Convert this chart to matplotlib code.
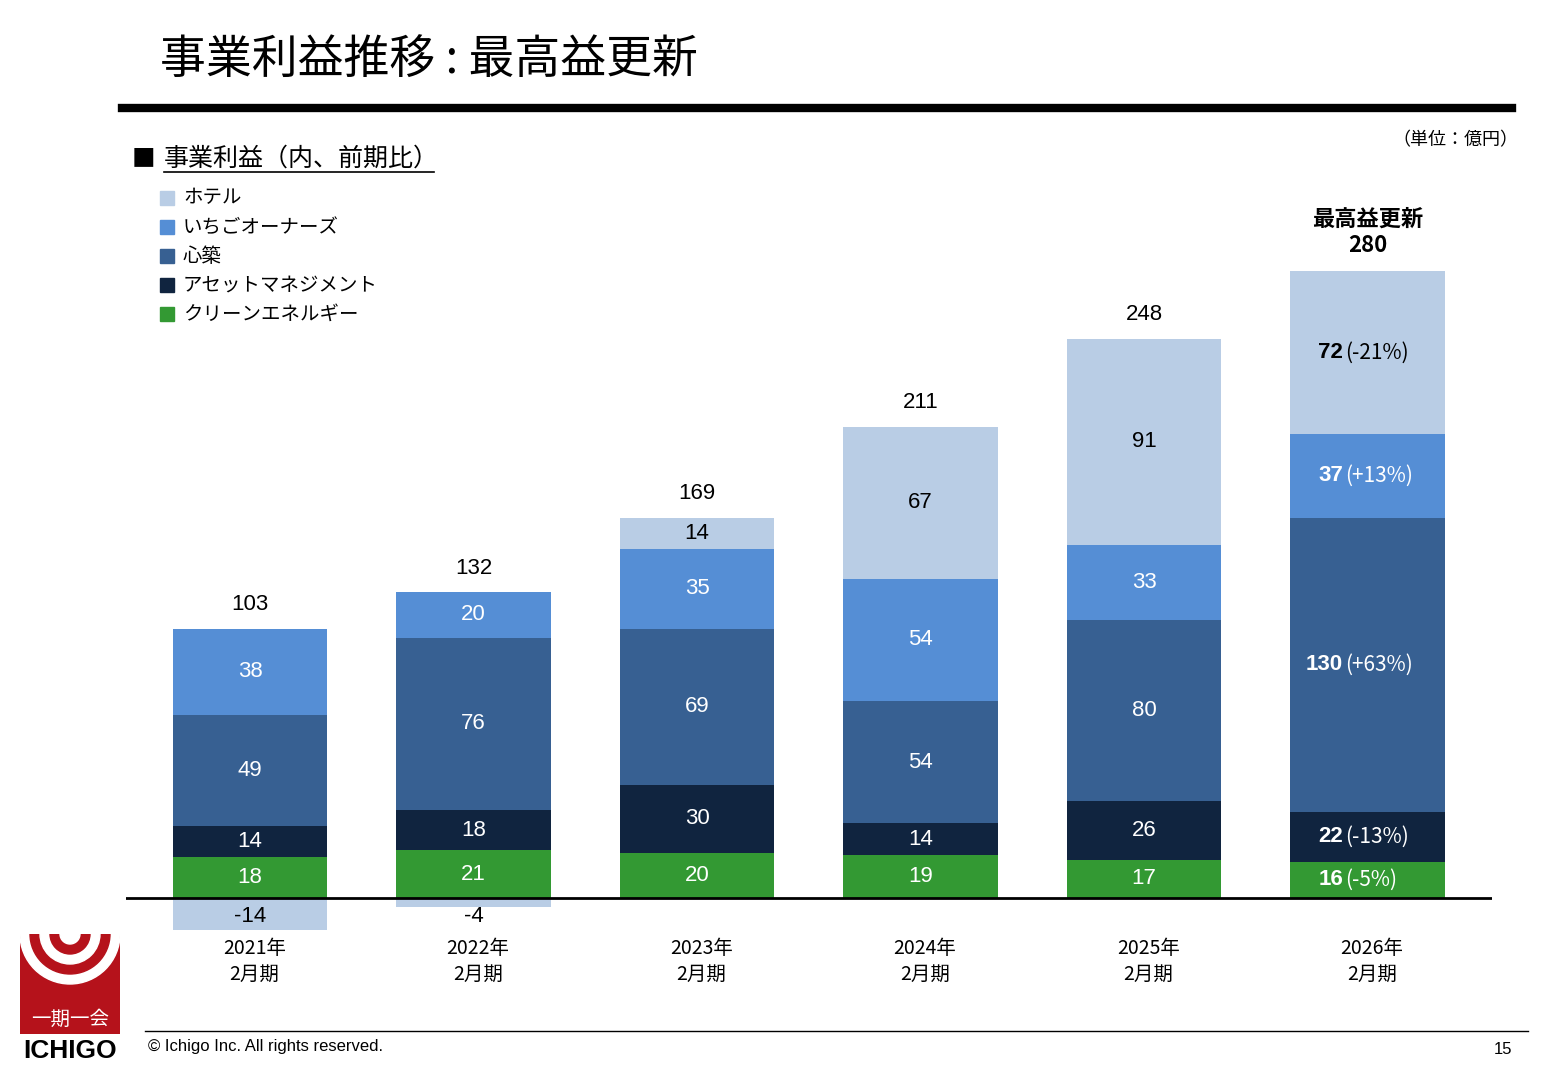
import matplotlib
matplotlib.use("Agg")
import matplotlib.pyplot as plt
from matplotlib.patches import Rectangle, Wedge
import numpy as np

plt.rcParams['font.family'] = ['Noto Sans CJK JP', 'DejaVu Sans']
NUM = ['Liberation Sans', 'Noto Sans CJK JP']

years = ["2021年\n2月期", "2022年\n2月期", "2023年\n2月期", "2024年\n2月期", "2025年\n2月期", "2026年\n2月期"]
series_names = ["ホテル", "いちごオーナーズ", "心築", "アセットマネジメント", "クリーンエネルギー"]
colors = ["#B9CDE5", "#558ED5", "#376092", "#10243F", "#339933"]
clean = [18, 21, 20, 19, 17, 16]
am = [14, 18, 30, 14, 26, 22]
shinchiku = [49, 76, 69, 54, 80, 130]
owners = [38, 20, 35, 54, 33, 37]
hotel = [-14, -4, 14, 67, 91, 72]
totals = [103, 132, 169, 211, 248, 280]
last_changes = {"hotel": "(-21%)", "owners": "(+13%)", "shinchiku": "(+63%)", "am": "(-13%)", "clean": "(-5%)"}

W, H = 1560, 1080
fig = plt.figure(figsize=(W / 100, H / 100), dpi=100)

def fx(px):
    return px / W

def fy(py):
    return 1 - py / H

ax = fig.add_axes([fx(126), fy(950), fx(1492 - 126), (950 - 200) / H])
ax.set_xlim(-0.555, 5.557)
ax.set_ylim(-22.97, 308.3)
ax.axis("off")

x = np.arange(len(years))
w = 0.69
OFF = 0.11

def last_label(xc, yc, v, key, color):
    ax.text(xc - OFF, yc, f"{v}", ha="right", va="center", color=color,
            fontsize=16, fontweight="bold", family=NUM)
    ax.text(xc - OFF + 0.01, yc, last_changes[key], ha="left", va="center", color=color, fontsize=15)

stack = [("clean", clean, 4), ("am", am, 3), ("shinchiku", shinchiku, 2), ("owners", owners, 1)]
bottom = np.zeros(len(x))
for key, vals, ci in stack:
    ax.bar(x, vals, w, bottom=bottom, color=colors[ci], linewidth=0)
    for i, v in enumerate(vals):
        yc = bottom[i] + v / 2
        if i == 5:
            last_label(x[i], yc, v, key, "white")
        else:
            ax.text(x[i], yc, f"{v}", ha="center", va="center", color="white", fontsize=16, family=NUM)
    bottom += np.array(vals)

hb = np.where(np.array(hotel) < 0, 0, bottom)
ax.bar(x, hotel, w, bottom=hb, color=colors[0], linewidth=0)
for i, v in enumerate(hotel):
    if v < 0:
        ax.text(x[i], -8, f"{v}", ha="center", va="center", color="black", fontsize=16, family=NUM)
    elif i == 5:
        last_label(x[i], bottom[i] + v / 2, v, "hotel", "black")
    else:
        ax.text(x[i], bottom[i] + v / 2, f"{v}", ha="center", va="center", fontsize=16, family=NUM)
tops = bottom + np.clip(hotel, 0, None)

for i, t in enumerate(totals):
    if i == 5:
        ax.text(x[i], tops[i] + 6, f"最高益更新\n{t}", ha="center", va="bottom", fontsize=16,
                fontweight="bold", linespacing=1.2)
    else:
        ax.text(x[i], tops[i] + 6, f"{t}", ha="center", va="bottom", fontsize=16, family=NUM)

ax.axhline(0, color="black", linewidth=2)
for i, lab in enumerate(years):
    ax.text(x[i] + 0.02, -17.5, lab, ha="center", va="top", fontsize=14, linespacing=1.3)

# title and header
fig.text(fx(160), fy(60), "事業利益推移 : 最高益更新", fontsize=33, va="center")
fig.add_artist(plt.Line2D([fx(122), fx(1512)], [fy(108), fy(108)], color="black", linewidth=6))
fig.text(fx(132), fy(159), "■", fontsize=17, va="center")
fig.text(fx(164), fy(159), "事業利益（内、前期比）", fontsize=18, va="center")
fig.add_artist(plt.Line2D([fx(164), fx(434)], [fy(172), fy(172)], color="black", linewidth=1.2))
fig.text(fx(1518), fy(140), "（単位：億円）", fontsize=13, ha="right", va="center")

for k, name in enumerate(series_names):
    yy = 198 + k * 29
    fig.add_artist(Rectangle((fx(160), fy(yy + 7)), fx(14), 14 / H, color=colors[k], transform=fig.transFigure))
    fig.text(fx(183), fy(yy), name, fontsize=14, va="center")

# footer
fig.add_artist(plt.Line2D([fx(145), fx(1528)], [fy(1031), fy(1031)], color="black", linewidth=1))
fig.text(fx(148), fy(1046), "© Ichigo Inc. All rights reserved.", fontsize=12, va="center", family=NUM)
fig.text(fx(1512), fy(1050), "15", fontsize=12, ha="right", va="center", family=NUM)

# logo
lax = fig.add_axes([fx(20), fy(1034), fx(100), 100 / H])
lax.set_xlim(0, 100)
lax.set_ylim(0, 100)
lax.axis("off")
lax.add_patch(Rectangle((0, 0), 100, 100, color="#B5121B"))
for r, c in [(50, "white"), (40, "#B5121B"), (30, "white"), (20, "#B5121B"), (10, "white")]:
    lax.add_patch(Wedge((50, 100), r, 180, 360, color=c))
lax.text(50, 15, "一期一会", color="white", fontsize=14, ha="center", va="center")
fig.text(fx(70), fy(1051), "ICHIGO", fontsize=19, fontweight="bold", ha="center", va="center", family=NUM)

fig.savefig("out.png", dpi=100)
